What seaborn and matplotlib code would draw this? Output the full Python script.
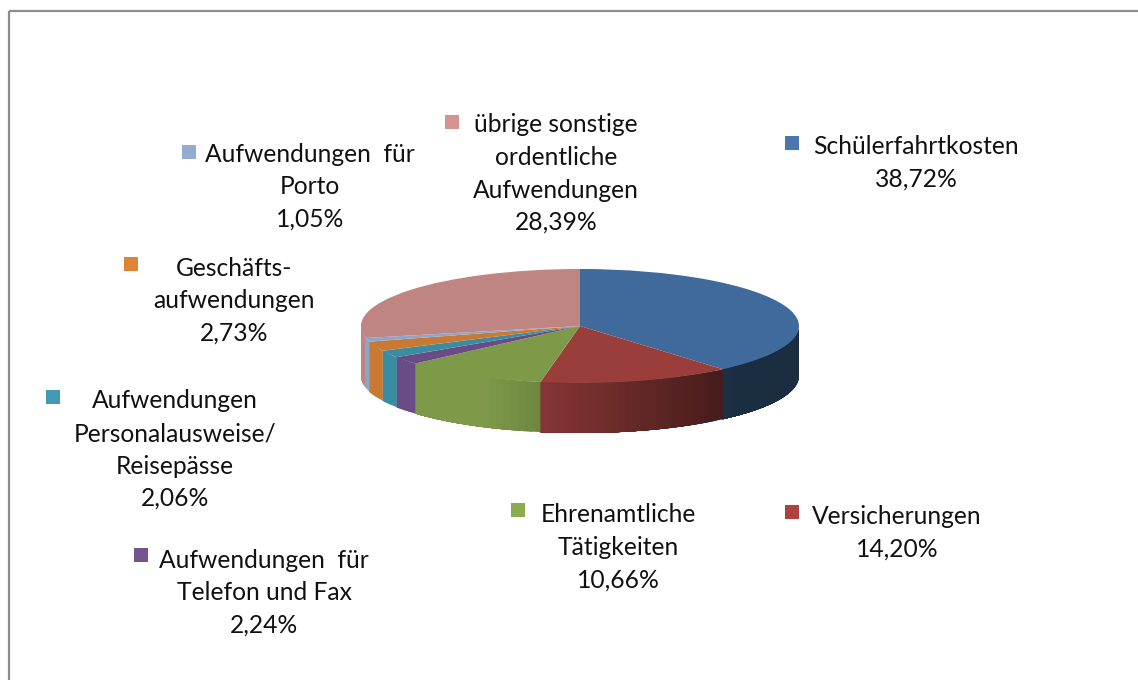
import numpy as np
import matplotlib
matplotlib.use("Agg")
import matplotlib.pyplot as plt
import seaborn as sns
from matplotlib.patches import Rectangle

categories = ["Schülerfahrtkosten", "Versicherungen", "Ehrenamtliche\nTätigkeiten",
              "Aufwendungen  für\nTelefon und Fax", "Aufwendungen\nPersonalausweise/\nReisepässe",
              "Geschäfts-\naufwendungen", "Aufwendungen  für\nPorto",
              "übrige sonstige\nordentliche\nAufwendungen"]
values = [38.72, 14.20, 10.66, 2.24, 2.06, 2.73, 1.05, 28.39]
value_labels = ["38,72%", "14,20%", "10,66%", "2,24%", "2,06%", "2,73%", "1,05%", "28,39%"]
colors = ["#3F6A9B", "#9A3E3C", "#7E9A49", "#6A4C84", "#3A8CA3", "#C87A33", "#8CA5CC", "#BF8583"]
key_xy = [(792, 143), (792, 512), (518, 510), (141, 555), (53, 397), (131, 264), (189, 152), (452, 122)]
key_colors = ["#4A78AE", "#AD4240", "#8CAB4F", "#74558F", "#3F9BB5", "#DD8436", "#94ABD2", "#D39492"]
text_xy = [(916, 147), (897, 517), (618, 515), (264, 560), (175, 401), (234, 268), (310, 154), (556, 125)]

W, H = 1138, 680
CX, CY, RX, RY, DEPTH = 580, 326, 219, 57, 50

sns.set_theme(style="white")
plt.rcParams["font.family"] = ["Lato", "DejaVu Sans"]
fig = plt.figure(figsize=(W / 100, H / 100), dpi=100, facecolor="white")

# overlay in pixel coordinates: frame, colour keys, labels
over = fig.add_axes([0, 0, 1, 1], zorder=2)
over.set_xlim(0, W); over.set_ylim(H, 0); over.axis("off"); over.patch.set_alpha(0)
over.add_patch(Rectangle((9, 11), W + 50, H + 50, fill=False, ec="#8C8C8C", lw=1.6))

pitch = 32.5
for cat, lab, (kx, ky), kc, (tx, ty) in zip(categories, value_labels, key_xy, key_colors, text_xy):
    over.scatter([kx], [ky], marker="s", s=105, color=kc, linewidths=0)
    for i, line in enumerate(cat.split("\n") + [lab]):
        over.text(tx, ty + i * pitch, line, ha="center", va="center", fontsize=17.7, color="#111111")

# pie: axes spans the top ellipse plus the side depth
ax = fig.add_axes([(CX - RX) / W, 1 - (CY + RY + DEPTH) / H, 2 * RX / W, (2 * RY + DEPTH) / H], zorder=1)
palette = sns.color_palette(colors)
d = DEPTH / RY
cum = np.concatenate([[0], np.cumsum(values) / np.sum(values) * 360])

def shade(c, x):
    f = np.clip(0.78 - 0.5 * x, 0.42, 1.0)
    return tuple(np.array(c) * f)

# side wall: overlapping strips, drawn right to left around the rim
for i, c in enumerate(palette):
    lo, hi = max(cum[i], 90), min(cum[i + 1], 270)
    if hi <= lo:
        continue
    edges = np.linspace(lo, hi, max(2, int((hi - lo) / 2) + 1))
    for k, (a, b) in enumerate(zip(edges[:-1], edges[1:])):
        th = np.radians(np.linspace(a, hi, 40))
        xs, ys = np.sin(th), np.cos(th)
        mid = np.sin(np.radians((a + b) / 2))
        ax.fill(np.r_[xs, xs[::-1]], np.r_[ys, ys[::-1] - d],
                color=shade(c, mid), lw=0, zorder=1 + i * 0.01)

ax.pie(values, colors=palette, startangle=90, counterclock=False, radius=1,
       normalize=True, wedgeprops=dict(linewidth=0, zorder=3))
ax.set_aspect("auto")
ax.set_xlim(-1, 1); ax.set_ylim(-1 - d, 1)
ax.axis("off")

fig.savefig("out.png", dpi=100)
